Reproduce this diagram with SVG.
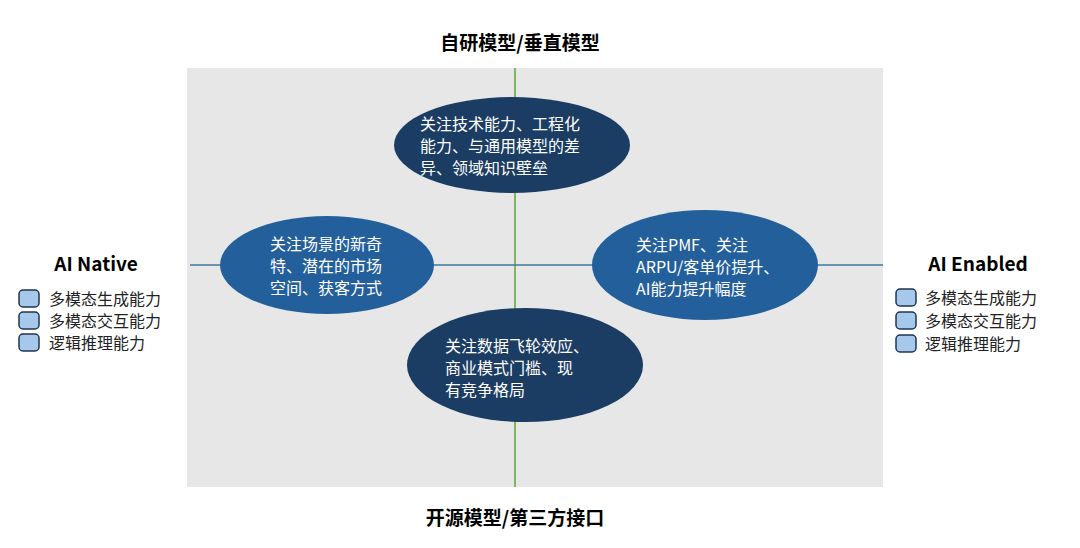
<svg xmlns="http://www.w3.org/2000/svg" width="1080" height="548" viewBox="0 0 1080 548">
<style>
.t{font-family:"Noto Sans CJK SC","Noto Sans",sans-serif;font-size:16px;fill:#fff}
.h{font-family:"Noto Sans CJK SC","Noto Sans",sans-serif;font-size:19px;font-weight:bold;fill:#000}
.l{font-family:"Noto Sans CJK SC","Noto Sans",sans-serif;font-size:16px;fill:#222}
.b{fill:#a6c8ea;stroke:#1f3550;stroke-width:1.5}
.dark{fill:#1b3d63}
.blue{fill:#23609b}
</style>
<rect x="187" y="68" width="696" height="419" fill="#e7e7e7"/>
<g id="connectors">
<line x1="515" y1="68" x2="515" y2="487" stroke="#5aa832" stroke-width="1.5"/>
<line x1="190" y1="265" x2="883" y2="265" stroke="#3d7a9a" stroke-width="1.5"/>
</g>
<text class="h" x="520" y="50" text-anchor="middle">自研模型/垂直模型</text>
<text class="h" x="515" y="525" text-anchor="middle">开源模型/第三方接口</text>
<g id="top"><ellipse class="dark" cx="512" cy="145" rx="118" ry="48"/>
<text class="t" x="420" y="130">关注技术能力、工程化</text><text class="t" x="420" y="152">能力、与通用模型的差</text><text class="t" x="420" y="174">异、领域知识壁垒</text></g>
<g id="left"><ellipse class="blue" cx="327" cy="265" rx="107" ry="49"/>
<text class="t" x="270" y="250">关注场景的新奇</text><text class="t" x="270" y="272">特、潜在的市场</text><text class="t" x="270" y="294">空间、获客方式</text></g>
<g id="right"><ellipse class="blue" cx="705" cy="265" rx="113" ry="55"/>
<text class="t" x="636" y="251">关注PMF、关注</text><text class="t" x="636" y="273">ARPU/客单价提升、</text><text class="t" x="636" y="295">AI能力提升幅度</text></g>
<g id="bottom"><ellipse class="dark" cx="525" cy="365" rx="118" ry="57"/>
<text class="t" x="445" y="352">关注数据飞轮效应、</text><text class="t" x="445" y="374">商业模式门槛、现</text><text class="t" x="445" y="396">有竞争格局</text></g>
<g id="ainative">
<text class="h" x="96" y="271" text-anchor="middle">AI Native</text>
<rect class="b" x="19" y="290" width="20" height="17" rx="4"/><text class="l" x="49" y="305">多模态生成能力</text>
<rect class="b" x="19" y="312" width="20" height="17" rx="4"/><text class="l" x="49" y="327">多模态交互能力</text>
<rect class="b" x="19" y="334" width="20" height="17" rx="4"/><text class="l" x="49" y="349">逻辑推理能力</text>
</g>
<g id="aienabled">
<text class="h" x="978" y="271" text-anchor="middle">AI Enabled</text>
<rect class="b" x="896" y="289" width="20" height="17" rx="4"/><text class="l" x="925" y="304">多模态生成能力</text>
<rect class="b" x="896" y="312" width="20" height="17" rx="4"/><text class="l" x="925" y="327">多模态交互能力</text>
<rect class="b" x="896" y="335" width="20" height="17" rx="4"/><text class="l" x="925" y="350">逻辑推理能力</text>
</g>
</svg>
